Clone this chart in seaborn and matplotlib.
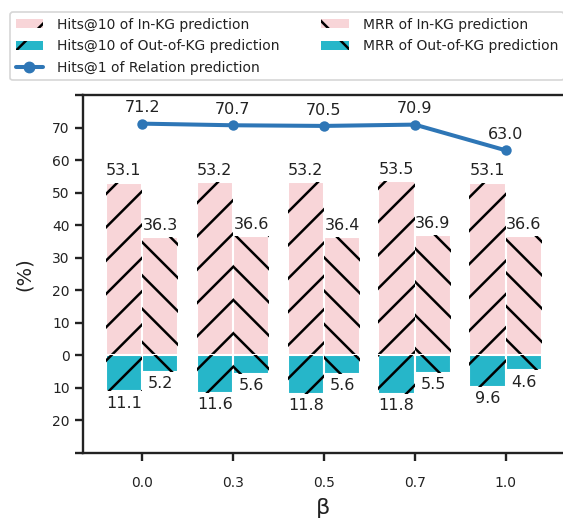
import numpy as np
import pandas as pd
import matplotlib
matplotlib.use("Agg")
import matplotlib.pyplot as plt
from matplotlib.patches import Patch
from matplotlib.lines import Line2D
from matplotlib.ticker import FuncFormatter
import seaborn as sns

# ---- data ----
betas = ["0.0", "0.3", "0.5", "0.7", "1.0"]
hits10_in_kg = [53.1, 53.2, 53.2, 53.5, 53.1]
mrr_in_kg = [36.3, 36.6, 36.4, 36.9, 36.6]
hits10_out_kg = [11.1, 11.6, 11.8, 11.8, 9.6]
mrr_out_kg = [5.2, 5.6, 5.6, 5.5, 4.6]
hits1_relation = [71.2, 70.7, 70.5, 70.9, 63.0]
y_ticks = [-30, -20, -10, 0, 10, 20, 30, 40, 50, 60, 70, 80]

PINK = "#f8d5d8"
CYAN = "#26b6c9"
BLUE = "#2e76b6"
INK = "#222222"

sns.set_theme(style="ticks")
plt.rcParams["font.family"] = ["DejaVu Sans"]
plt.rcParams["hatch.linewidth"] = 1.8
plt.rcParams["axes.linewidth"] = 1.7

fig = plt.figure(figsize=(5.63, 5.2), dpi=100)
ax = fig.add_axes([83 / 563, 67 / 520, 480 / 563, 358 / 520])

metrics = ["Hits@10", "MRR"]
in_kg = pd.DataFrame({
    "beta": betas * 2,
    "metric": ["Hits@10"] * 5 + ["MRR"] * 5,
    "value": hits10_in_kg + mrr_in_kg,
})
out_kg = pd.DataFrame({
    "beta": betas * 2,
    "metric": ["Hits@10"] * 5 + ["MRR"] * 5,
    "value": [-v for v in hits10_out_kg] + [-v for v in mrr_out_kg],
})

hatches = {"Hits@10": "/", "MRR": "\\"}


def draw_bars(df, color):
    # filled bars separated by white outlines
    sns.barplot(data=df, x="beta", y="value", hue="metric",
                palette=[color, color], order=betas, hue_order=metrics,
                errorbar=None, saturation=1, edgecolor="white", linewidth=1.5,
                legend=False, ax=ax)
    filled = ax.containers[-2:]
    # black hatch overlay on top of the fills
    sns.barplot(data=df, x="beta", y="value", hue="metric",
                palette=[color, color], order=betas, hue_order=metrics,
                errorbar=None, saturation=1, fill=False, legend=False, ax=ax)
    for cont, metric in zip(ax.containers[-2:], metrics):
        for p in cont:
            p.set_hatch(hatches[metric])
            p.set_edgecolor("black")
            p.set_linewidth(0)
    return filled


pos_conts = draw_bars(in_kg, PINK)
neg_conts = draw_bars(out_kg, CYAN)

label_kw = dict(fontsize=11.5, color=INK)
for cont in pos_conts:
    ax.bar_label(cont, labels=[f"{p.get_height():.1f}" for p in cont], padding=3, **label_kw)
for cont in neg_conts:
    ax.bar_label(cont, labels=[f"{abs(p.get_height()):.1f}" for p in cont], padding=3, **label_kw)

xs = np.arange(len(betas))
sns.lineplot(x=xs, y=hits1_relation, color=BLUE, marker="o", markersize=7.5,
             markeredgewidth=0, linewidth=2.9, ax=ax)
for x, v in zip(xs, hits1_relation):
    ax.annotate(f"{v:.1f}", (x, v), xytext=(0, 6), textcoords="offset points",
                ha="center", va="bottom", **label_kw)

ax.set_xlim(-0.65, 4.63)
ax.set_ylim(-30, 80)
ax.set_yticks(y_ticks)
ax.yaxis.set_major_formatter(FuncFormatter(
    lambda v, _: "" if v in (-30, 80) else f"{abs(int(round(v)))}"))
ax.tick_params(axis="both", labelsize=10, length=6, width=1.7, colors=INK)
ax.tick_params(axis="x", pad=10.5)
ax.spines["right"].set_visible(False)
for s in ["left", "top", "bottom"]:
    ax.spines[s].set_color(INK)
ax.set_xlabel("β", fontsize=16, color=INK, labelpad=6)
ax.set_ylabel("(%)", fontsize=14, color=INK, labelpad=13)

handles = [
    Patch(facecolor=PINK, edgecolor="black", linewidth=0, hatch="/"),
    Patch(facecolor=CYAN, edgecolor="black", linewidth=0, hatch="/"),
    Line2D([], [], color=BLUE, marker="o", markersize=7.5, linewidth=2.9),
    Patch(facecolor=PINK, edgecolor="black", linewidth=0, hatch="\\"),
    Patch(facecolor=CYAN, edgecolor="black", linewidth=0, hatch="\\"),
]
labels = [
    "Hits@10 of In-KG prediction",
    "Hits@10 of Out-of-KG prediction",
    "Hits@1 of Relation prediction",
    "MRR of In-KG prediction",
    "MRR of Out-of-KG prediction",
]
leg = fig.legend(handles, labels, ncol=2, loc="upper left",
                 bbox_to_anchor=(10 / 563, 1 - 12 / 520), fontsize=10,
                 labelspacing=0.55, columnspacing=3.0, handletextpad=1.0,
                 handleheight=0.6, frameon=True, fancybox=True, borderaxespad=0)
leg.get_frame().set_edgecolor("#cccccc")
leg.get_frame().set_linewidth(1.2)
for t in leg.get_texts():
    t.set_color(INK)

fig.savefig("out.png", dpi=100)
